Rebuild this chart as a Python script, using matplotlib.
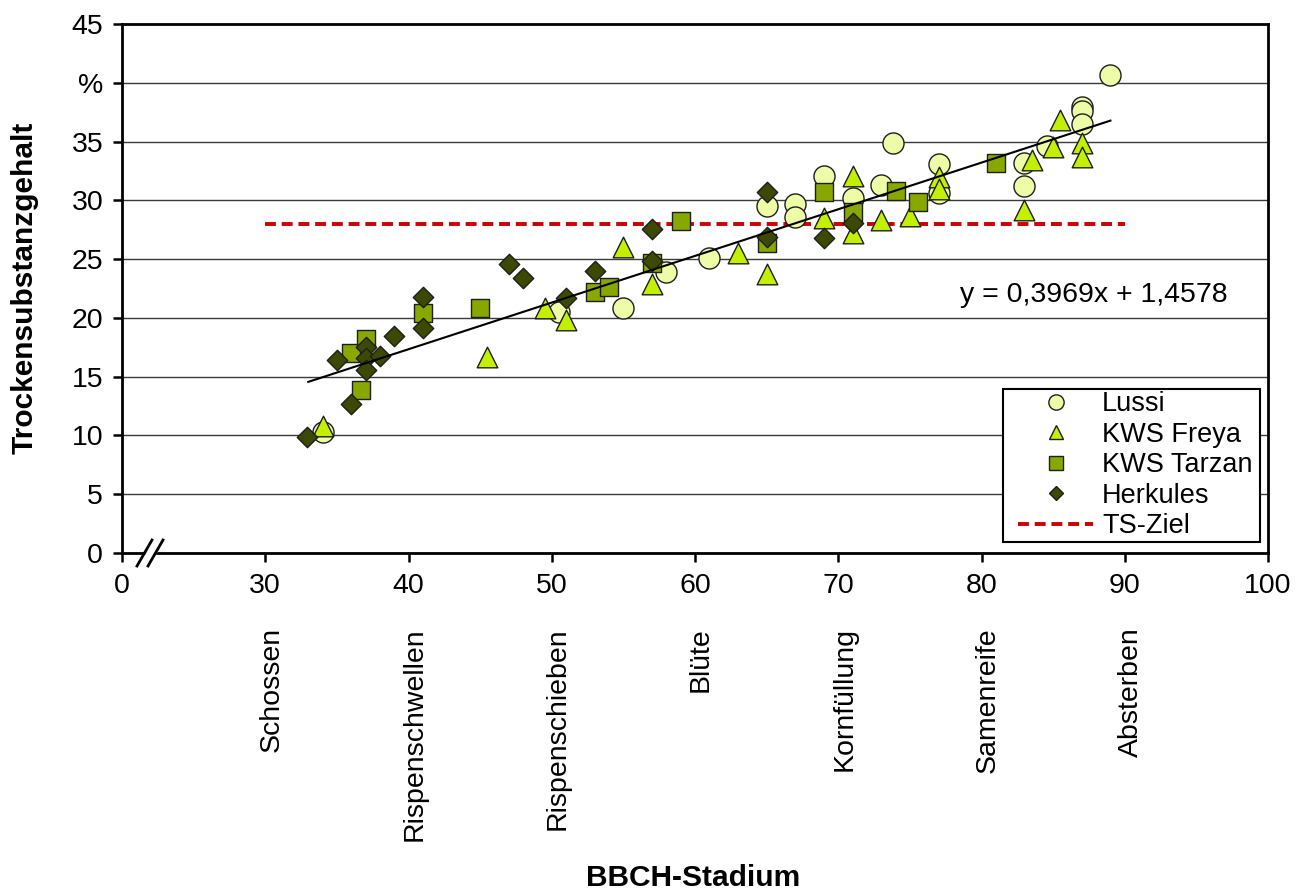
import matplotlib
matplotlib.use("Agg")
import matplotlib.pyplot as plt
from matplotlib.lines import Line2D
from matplotlib.patches import Polygon, Rectangle
import matplotlib.transforms as mtransforms

plt.rcParams['font.family'] = ['Liberation Sans', 'DejaVu Sans']

# ---------------- data ----------------
lussi_x = [34, 50.5, 55, 58, 61, 65, 67, 67, 69, 71, 73, 73.8, 77, 77, 83, 83, 84.6, 87, 87, 87, 89]
lussi_y = [10.3, 20.5, 20.8, 23.9, 25.1, 29.5, 29.7, 28.6, 32.1, 30.2, 31.3, 34.9, 33.1, 30.6, 33.2, 31.2, 34.6, 37.9, 37.6, 36.5, 40.7]

freya_x = [34, 45.5, 49.5, 51, 55, 57, 63, 65, 69, 71, 71, 73, 75, 77, 77, 83, 83.5, 85, 85.5, 87, 87]
freya_y = [10.8, 16.7, 20.8, 19.8, 26.0, 22.9, 25.5, 23.7, 28.5, 32.1, 27.2, 28.3, 28.7, 32.0, 31.0, 29.2, 33.4, 34.5, 36.8, 34.9, 33.7]

tarzan_x = [36, 36.7, 37, 41, 45, 53, 54, 57, 59, 65, 69, 71, 74, 75.6, 81]
tarzan_y = [17.0, 13.9, 18.2, 20.4, 20.8, 22.2, 22.6, 24.7, 28.2, 26.4, 30.7, 29.0, 30.8, 29.9, 33.2]

herk_x = [32.9, 35, 36, 37, 37, 37, 38, 39, 41, 41, 47, 48, 51, 53, 57, 57, 65, 65, 69, 71]
herk_y = [9.9, 16.4, 12.7, 17.5, 16.6, 15.6, 16.8, 18.5, 21.8, 19.1, 24.6, 23.4, 21.7, 24.0, 27.6, 24.8, 30.7, 26.9, 26.8, 28.1]

trend_slope = 0.3969
trend_intercept = 1.4578
trend_x = [33, 89]
ts_goal = 28
ts_x = [30, 90]

x_ticks = [20, 30, 40, 50, 60, 70, 80, 90, 100]
x_ticklabels = ['0', '30', '40', '50', '60', '70', '80', '90', '100']
y_ticks = [0, 5, 10, 15, 20, 25, 30, 35, 40, 45]
y_ticklabels = ['0', '5', '10', '15', '20', '25', '30', '35', '%', '45']
stage_x = [30, 40, 50, 60, 70, 80, 90]
stage_names = ['Schossen', 'Rispenschwellen', 'Rispenschieben', 'Blüte',
               'Kornfüllung', 'Samenreife', 'Absterben']

series_names = ['Lussi', 'KWS Freya', 'KWS Tarzan', 'Herkules', 'TS-Ziel']
c_lussi = '#EEFCA8'
c_freya = '#C2F000'
c_tarzan = '#88A800'
c_herk = '#3B4A00'
c_edge = '#1E1E1E'
c_goal = '#CC0000'

FS = 20.5

# ---------------- figure ----------------
W, H = 1307, 890
fig = plt.figure(figsize=(W / 100, H / 100), dpi=100)
L, R, T, B = 122, 1268, 24, 553
ax = fig.add_axes([L / W, 1 - B / H, (R - L) / W, (B - T) / H])
ax.set_xlim(20, 100)
ax.set_ylim(0, 45)

ax.set_yticks(y_ticks)
ax.set_yticklabels(y_ticklabels)
ax.set_xticks(x_ticks)
ax.set_xticklabels(x_ticklabels)
ax.tick_params(axis='both', direction='out', length=6.5, width=1.8, labelsize=FS, color='black')
ax.tick_params(axis='x', pad=8)
ax.tick_params(axis='y', pad=7)
for s in ax.spines.values():
    s.set_linewidth(2.0)
    s.set_color('black')
ax.yaxis.grid(True, color='#3A3A3A', linewidth=1.0)
ax.set_axisbelow(True)

# goal line
ax.plot(ts_x, [ts_goal, ts_goal], color=c_goal, linewidth=2.8, dashes=(2.8, 1.5), zorder=2)

# scatter series
ax.scatter(lussi_x, lussi_y, s=230, marker='o', facecolor=c_lussi, edgecolor=c_edge, linewidth=1.0, zorder=3)
ax.scatter(freya_x, freya_y, s=220, marker='^', facecolor=c_freya, edgecolor=c_edge, linewidth=1.0, zorder=4)
ax.scatter(tarzan_x, tarzan_y, s=170, marker='s', facecolor=c_tarzan, edgecolor=c_edge, linewidth=1.0, zorder=5)
ax.scatter(herk_x, herk_y, s=108, marker='D', facecolor=c_herk, edgecolor=c_edge, linewidth=1.0, zorder=6)

# trend line
ty = [trend_slope * v + trend_intercept for v in trend_x]
ax.plot(trend_x, ty, color='black', linewidth=1.5, zorder=7)

# equation
fig.text(1228 / W, 1 - 295 / H, 'y = 0,3969x + 1,4578', ha='right', va='center', fontsize=FS)

# stage labels
trans = mtransforms.blended_transform_factory(ax.transData, fig.transFigure) + \
    mtransforms.ScaledTranslation(6 / 100, 0, fig.dpi_scale_trans)
for xv, name in zip(stage_x, stage_names):
    ax.text(xv, 1 - 627 / H, name, rotation=90, ha='center', va='top', fontsize=FS,
            transform=trans, clip_on=False)

# axis titles
fig.text(693 / W, 1 - 878 / H, 'BBCH-Stadium', ha='center', va='center', fontsize=21.5, fontweight='bold')
fig.text(25 / W, 1 - 288 / H, 'Trockensubstanzgehalt', ha='center', va='center', rotation=90,
         fontsize=21.5, fontweight='bold')

# axis break mark
def fx(px):
    return px / W
def fy(py):
    return 1 - py / H
brk = Polygon([(fx(139), fy(566)), (fx(150), fy(566)), (fx(164), fy(540)), (fx(153), fy(540))],
              closed=True, facecolor='white', edgecolor='none', transform=fig.transFigure, zorder=10)
fig.patches.append(brk)
for dx in (0, 11):
    fig.add_artist(Line2D([fx(137 + dx), fx(152 + dx)], [fy(566), fy(540)], color='black',
                          linewidth=2.0, transform=fig.transFigure, zorder=11))

# legend (frame drawn separately inside the axes, under the legend)
frame = Rectangle((fx(1003), fy(542)), fx(1260) - fx(1003), fy(389) - fy(542),
                  transform=fig.transFigure, facecolor='white', edgecolor='black', linewidth=1.5,
                  zorder=19, clip_on=False)
ax.add_patch(frame)
handles = [
    Line2D([], [], linestyle='none', marker='o', markersize=11, markerfacecolor=c_lussi, markeredgecolor=c_edge, markeredgewidth=1.0),
    Line2D([], [], linestyle='none', marker='^', markersize=10.5, markerfacecolor=c_freya, markeredgecolor=c_edge, markeredgewidth=1.0),
    Line2D([], [], linestyle='none', marker='s', markersize=10.5, markerfacecolor=c_tarzan, markeredgecolor=c_edge, markeredgewidth=1.0),
    Line2D([], [], linestyle='none', marker='D', markersize=7.6, markerfacecolor=c_herk, markeredgecolor=c_edge, markeredgewidth=1.0),
    Line2D([], [], color=c_goal, linewidth=2.8, dashes=(2.8, 1.5)),
]
leg = ax.legend(handles, series_names, loc='upper left', bbox_to_anchor=(fx(1018), fy(391)),
                bbox_transform=fig.transFigure, fontsize=19.5, frameon=False,
                borderaxespad=0, borderpad=0,
                handlelength=2.78, handletextpad=0.33, labelspacing=0.17)
leg.set_zorder(20)

fig.savefig('out.png', dpi=100)
